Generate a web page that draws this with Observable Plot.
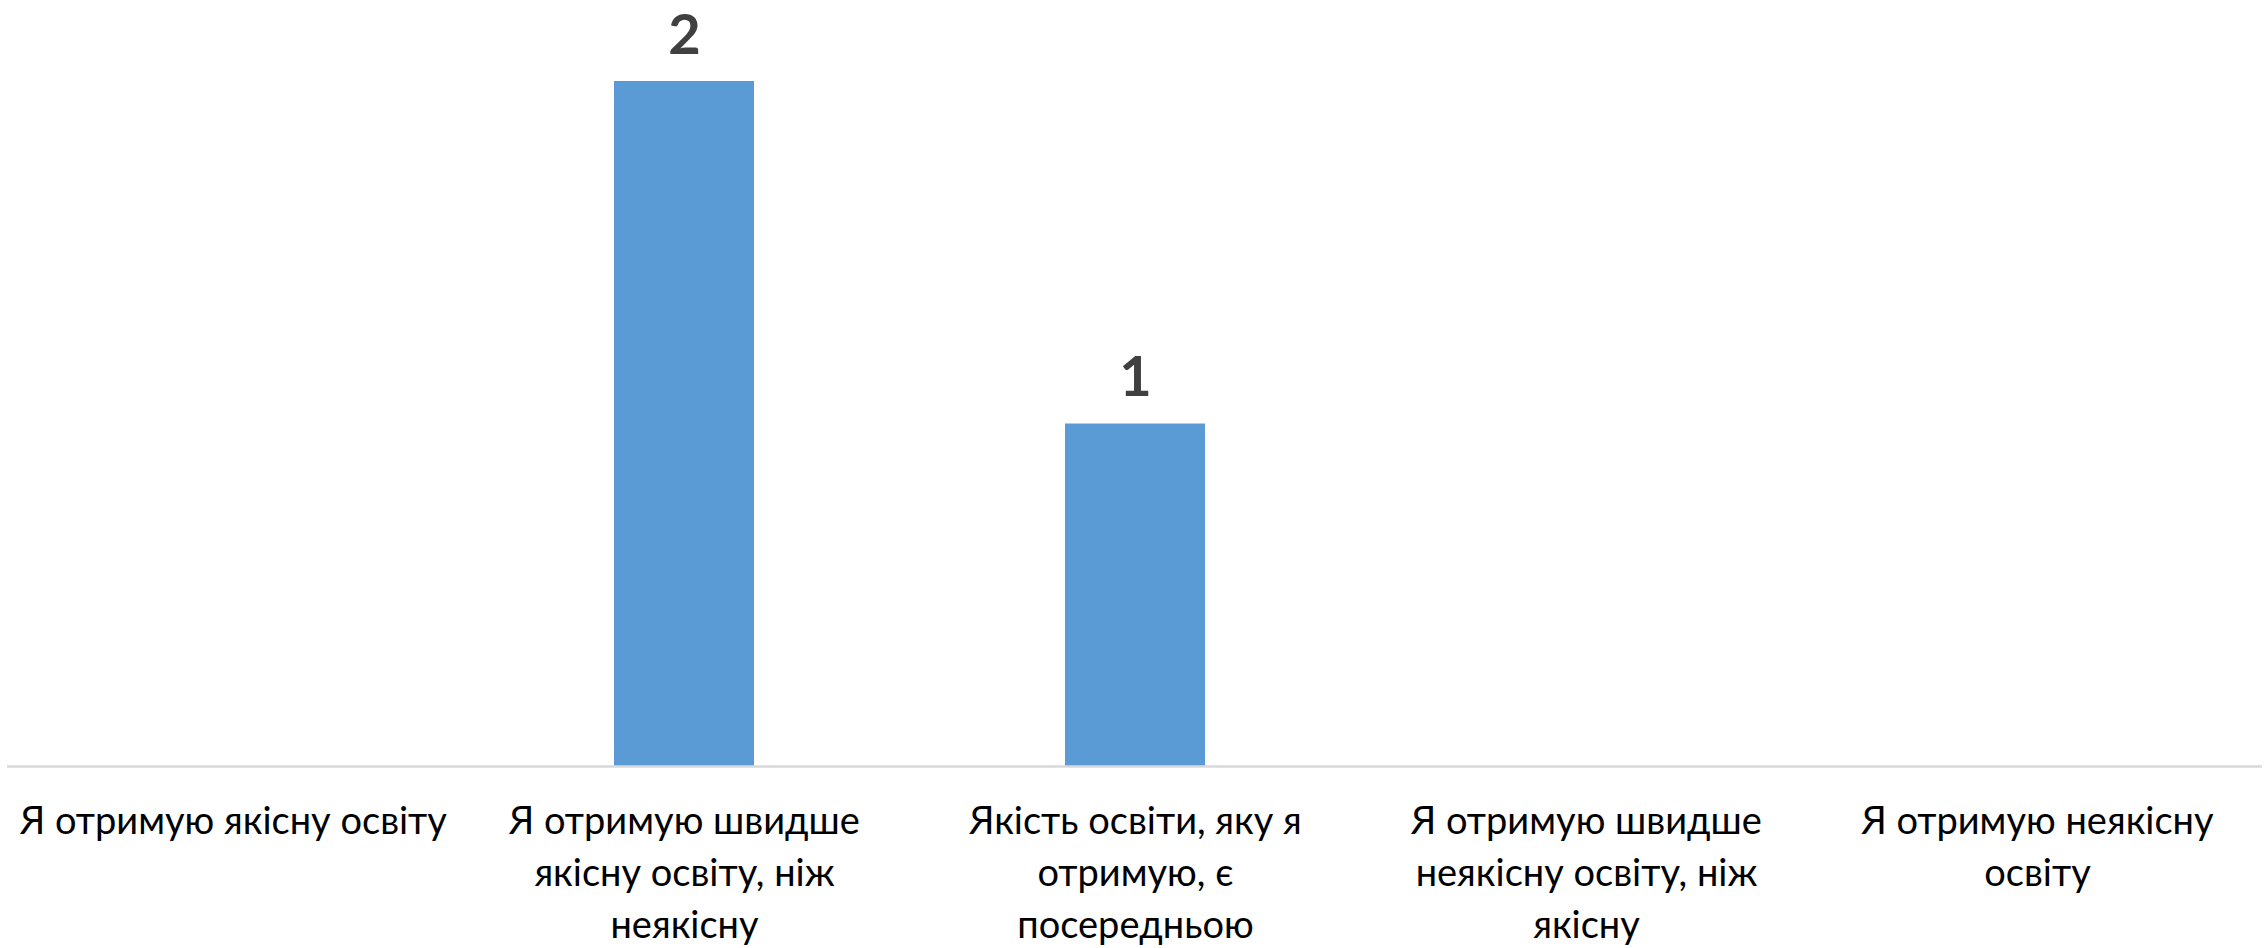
<!DOCTYPE html>
<html>
<head>
<meta charset="utf-8">
<script src="https://cdn.jsdelivr.net/npm/d3@7"></script>
<script src="https://cdn.jsdelivr.net/npm/@observablehq/plot@0.6"></script>
<style>
  html, body { margin: 0; padding: 0; background: #fff; }
  #chart svg { display: block; }
</style>
</head>
<body>
<div id="chart"></div>
<script>
const categories = [
  "Я отримую якісну освіту",
  "Я отримую швидше якісну освіту, ніж неякісну",
  "Якість освіти, яку я отримую, є посередньою",
  "Я отримую швидше неякісну освіту, ніж якісну",
  "Я отримую неякісну освіту"
];
const tickLabels = [
  "Я отримую якісну освіту",
  "Я отримую швидше\nякісну освіту, ніж\nнеякісну",
  "Якість освіти, яку я\nотримую, є\nпосередньою",
  "Я отримую швидше\nнеякісну освіту, ніж\nякісну",
  "Я отримую неякісну\nосвіту"
];
const values = [0, 2, 1, 0, 0];

const data = categories.map((c, i) => ({category: c, value: values[i]}));

const chart = Plot.plot({
  width: 2266,
  height: 948,
  marginLeft: 7,
  marginRight: 4,
  marginTop: 81,
  marginBottom: 182,
  style: {fontFamily: "Lato, 'Open Sans', sans-serif", background: "#fff"},
  x: {domain: categories, paddingInner: 0.69, paddingOuter: 0.345, label: null},
  y: {domain: [0, 2], axis: null},
  marks: [
    Plot.barY(data, {x: "category", y: "value", fill: "#5B9BD5"}),
    Plot.ruleY([0], {stroke: "#d9d9d9", strokeWidth: 2.5}),
    Plot.text(data.filter(d => d.value > 0), {
      x: "category", y: "value", text: d => String(d.value),
      lineAnchor: "bottom", dy: -28, fontSize: 56, fontWeight: "bold", fill: "#404040"
    }),
    Plot.axisX({
      domain: categories,
      tickSize: 0, tickPadding: 31,
      tickFormat: (d) => tickLabels[categories.indexOf(d)],
      fontSize: 38, lineHeight: 1.36, fill: "#000", lineAnchor: "top", label: null,
      textOverflow: null, lineWidth: Infinity
    })
  ]
});
document.getElementById("chart").appendChild(chart);
</script>
</body>
</html>
